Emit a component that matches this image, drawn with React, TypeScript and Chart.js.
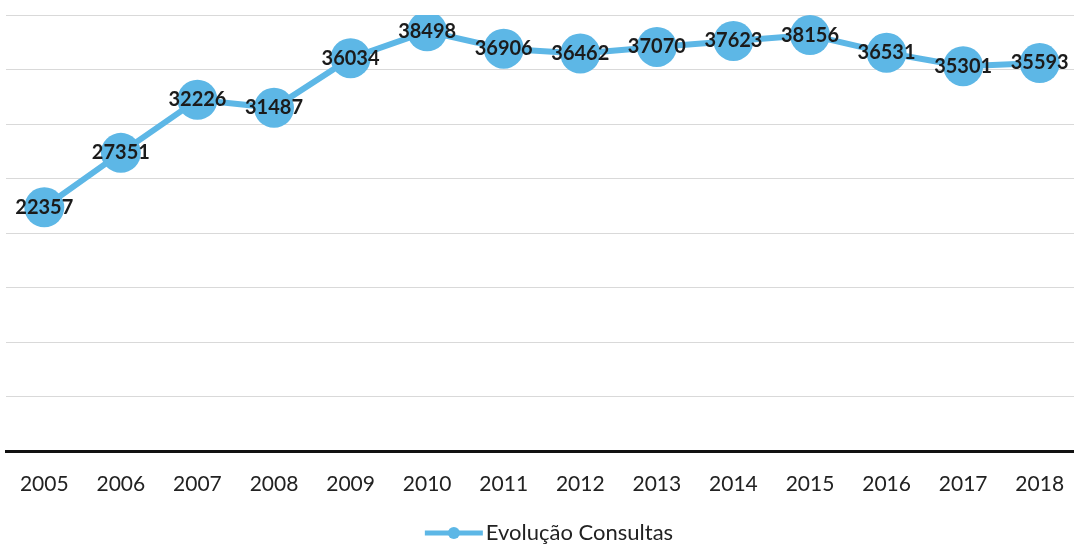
import React, { useEffect, useRef } from "react";
import { Chart, registerables } from "chart.js";

Chart.register(...registerables);

const years = ["2005", "2006", "2007", "2008", "2009", "2010", "2011", "2012", "2013", "2014", "2015", "2016", "2017", "2018"];
const consultas = [22357, 27351, 32226, 31487, 36034, 38498, 36906, 36462, 37070, 37623, 38156, 36531, 35301, 35593];
const seriesName = "Evolução Consultas";
const yMax = 40000;
const yStep = 5000;

const LINE_COLOR = "#5DB7E6";
const CANVAS_W = 1078;

const labelPlugin = {
  id: "pointLabels",
  afterDatasetsDraw(chart: any) {
    const { ctx } = chart;
    const meta = chart.getDatasetMeta(0);
    ctx.save();
    ctx.font = "bold 20px Lato";
    ctx.fillStyle = "#1b1b1b";
    ctx.textAlign = "center";
    ctx.textBaseline = "middle";
    meta.data.forEach((pt: any, i: number) => {
      ctx.fillText(String(consultas[i]), pt.x, pt.y);
    });
    ctx.restore();
  },
};

const legendPlugin = {
  id: "bottomLegend",
  afterDraw(chart: any) {
    const { ctx } = chart;
    const ds = chart.data.datasets[0];
    ctx.save();
    ctx.font = "22px Lato";
    const tw = ctx.measureText(ds.label).width;
    const iconW = 58;
    const gap = 3;
    const total = iconW + gap + tw;
    const cx = 1074 / 2 + 12;
    const x0 = cx - total / 2;
    const y = chart.height - 13;
    ctx.strokeStyle = ds.borderColor;
    ctx.lineWidth = 5;
    ctx.beginPath();
    ctx.moveTo(x0, y);
    ctx.lineTo(x0 + iconW, y);
    ctx.stroke();
    ctx.fillStyle = ds.borderColor;
    ctx.beginPath();
    ctx.arc(x0 + iconW / 2, y, 6, 0, Math.PI * 2);
    ctx.fill();
    ctx.fillStyle = "#222";
    ctx.textAlign = "left";
    ctx.textBaseline = "middle";
    ctx.fillText(ds.label, x0 + iconW + gap, y);
    ctx.restore();
  },
};

export default function App() {
  const ref = useRef<HTMLCanvasElement | null>(null);
  useEffect(() => {
    document.body.style.margin = "0";
    const chart = new Chart(ref.current!, {
      type: "line",
      data: {
        labels: years,
        datasets: [
          {
            label: seriesName,
            data: consultas,
            borderColor: LINE_COLOR,
            backgroundColor: LINE_COLOR,
            borderWidth: 6,
            pointRadius: 20,
            pointBackgroundColor: LINE_COLOR,
            pointBorderWidth: 0,
            tension: 0,
          },
        ],
      },
      options: {
        animation: false,
        responsive: false,
        layout: { autoPadding: false, padding: { left: 6, right: 0, top: 15, bottom: 33 } },
        plugins: {
          tooltip: { enabled: false },
          legend: { display: false },
        },
        scales: {
          x: {
            offset: true,
            grid: { display: false, drawTicks: false },
            border: { display: true, color: "#111", width: 3 },
            ticks: { color: "#222", padding: 21, font: { family: "Lato", size: 21 } },
            afterFit: (s: any) => {
              s.height = 62;
              s.paddingLeft = 0;
              s.paddingRight = 0;
            },
          },
          y: {
            min: 0,
            max: yMax,
            ticks: { display: false, stepSize: yStep },
            grid: { color: "#d9d9d9", lineWidth: 1, drawTicks: false },
            border: { display: false },
            afterFit: (s: any) => {
              s.width = 0;
            },
          },
        },
      },
      plugins: [labelPlugin, legendPlugin],
    });
    return () => chart.destroy();
  }, []);
  return (
    <div style={{ position: "absolute", left: 0, top: 0, width: 1074, height: 546, overflow: "hidden", background: "#fff" }}>
      <canvas ref={ref} width={CANVAS_W} height={546} />
    </div>
  );
}
